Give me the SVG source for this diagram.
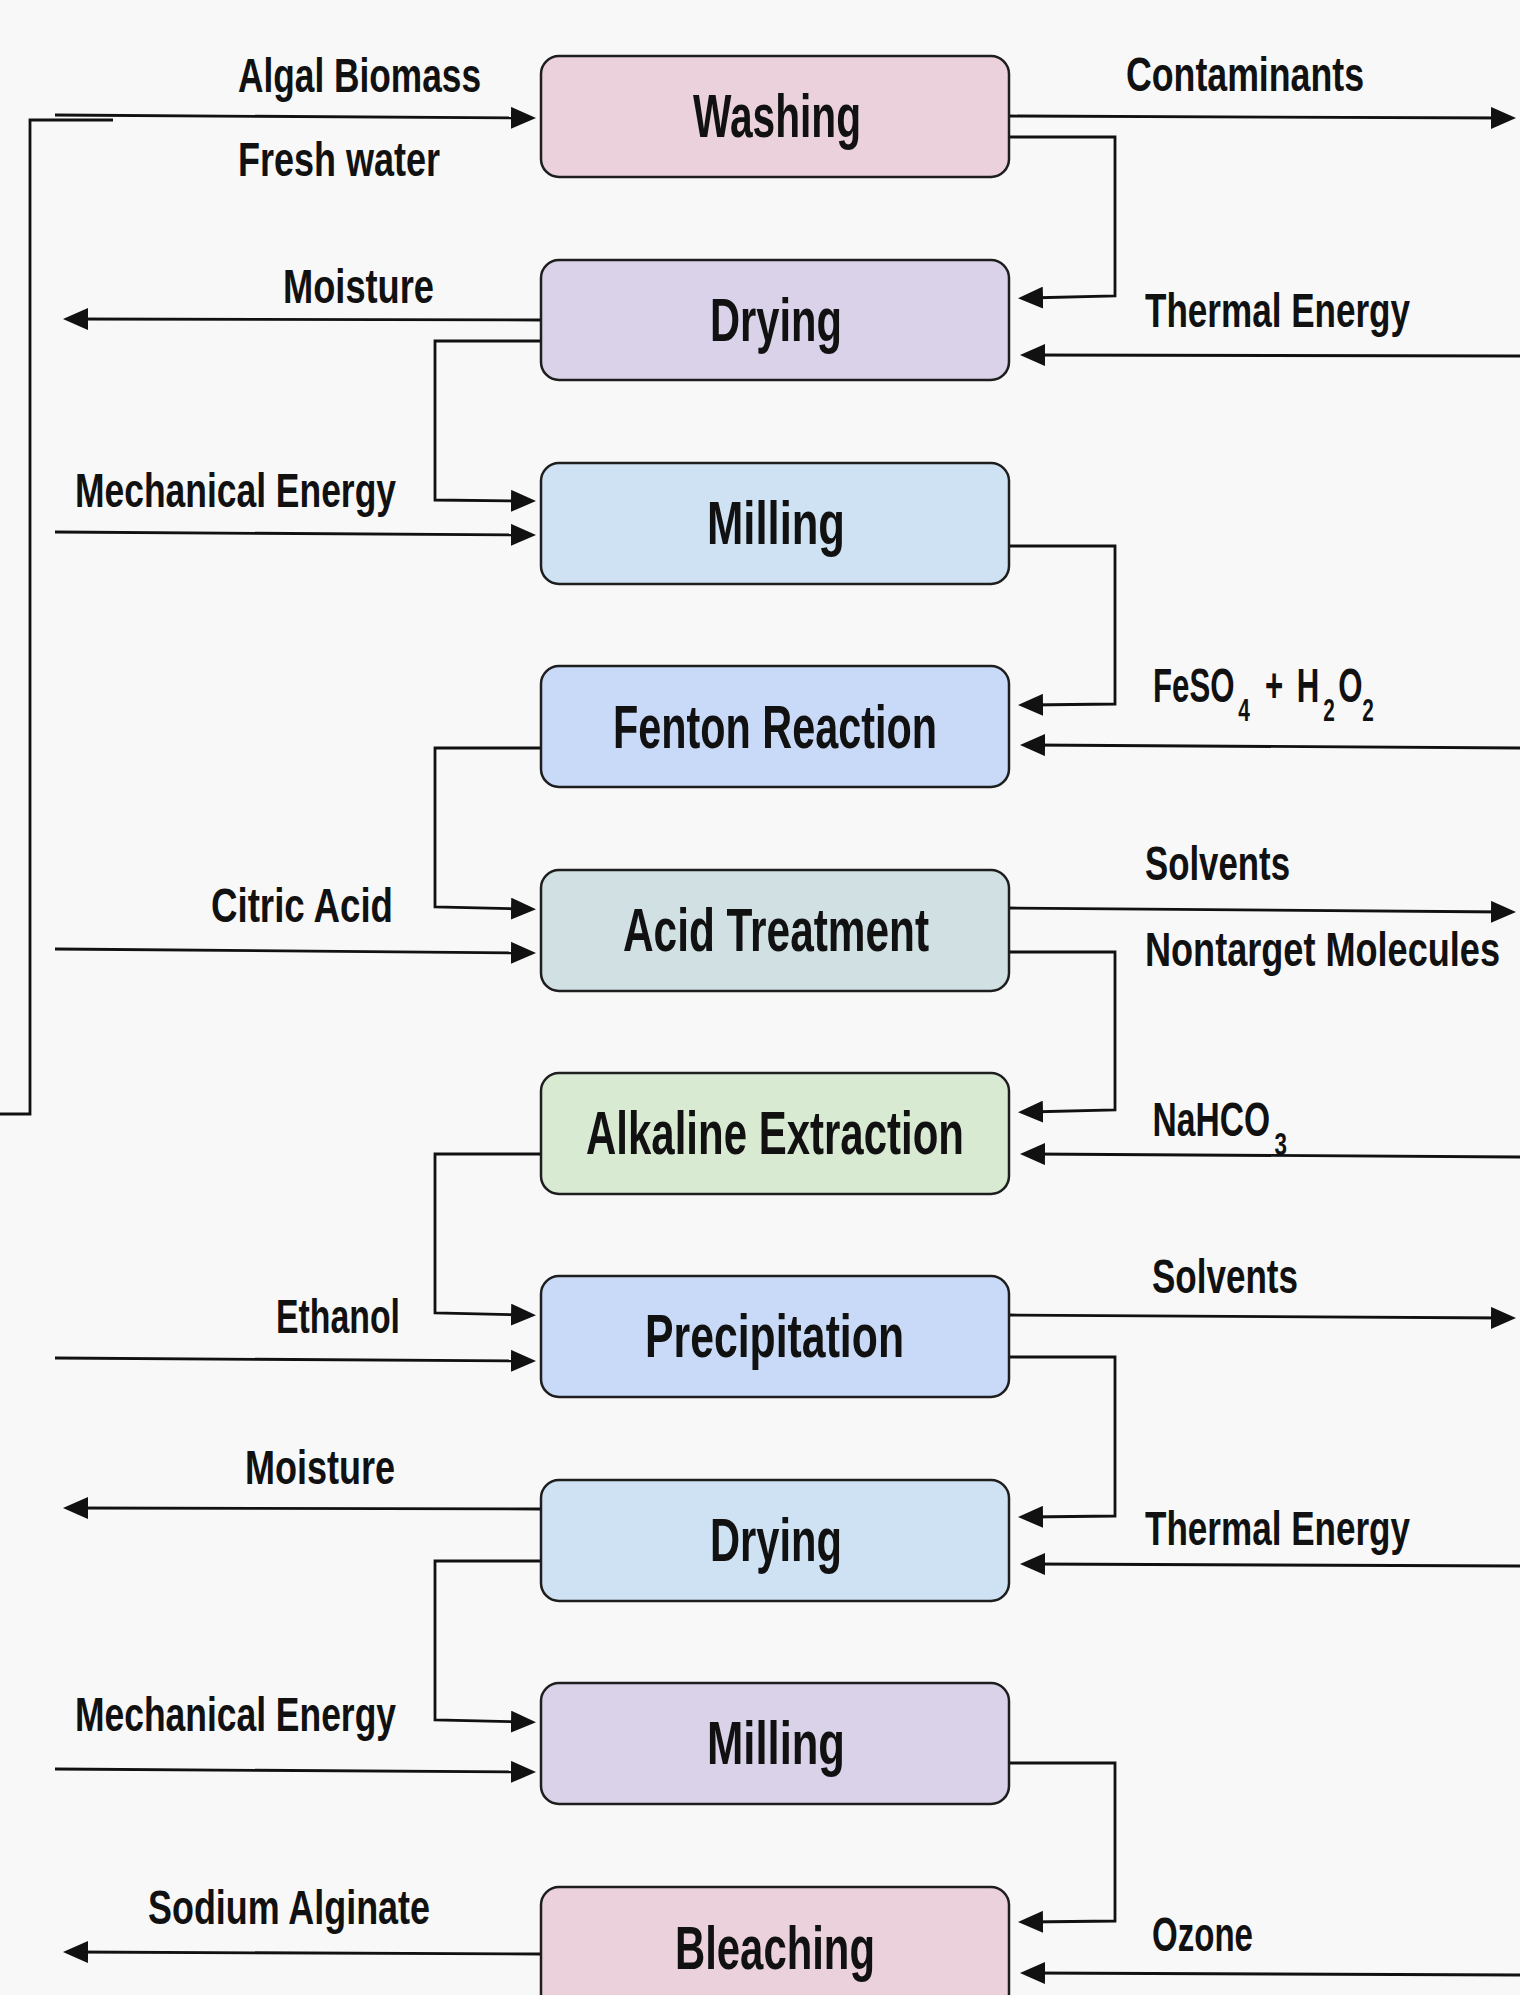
<svg xmlns="http://www.w3.org/2000/svg" width="1520" height="1995" viewBox="0 0 1520 1995">
<defs>
<style>
.box{stroke:#1e1e1e;stroke-width:2.5}
.bt{font-family:"Liberation Sans Narrow","Liberation Sans",Arial,sans-serif;font-weight:bold;font-size:62px;fill:#111}
.lb{font-family:"Liberation Sans Narrow","Liberation Sans",Arial,sans-serif;font-weight:bold;font-size:48px;fill:#111}
.fm{font-family:"Liberation Sans",Arial,sans-serif;font-weight:bold;font-size:48px;fill:#111}
.sub{font-size:32px}
.c{fill:none;stroke:#111;stroke-width:2.8}
.ca{fill:none;stroke:#111;stroke-width:2.8;marker-end:url(#arr)}
</style>
<marker id="arr" markerUnits="userSpaceOnUse" markerWidth="26" markerHeight="22" refX="15" refY="11" orient="auto">
<path d="M0,0 L25,11 L0,22 z" fill="#111"/>
</marker>
</defs>
<rect x="0" y="0" width="1520" height="1995" fill="#f8f8f8"/>

<g id="connectors">
<path class="c" d="M113,120 H30 V1114 H0" stroke-width="3.5"/>
<path class="ca" d="M55,115 L526,118"/>
<path class="ca" d="M541,320 L73,319"/>
<path class="ca" d="M541,341 H435 V500 L526,501"/>
<path class="ca" d="M55,532 L526,535"/>
<path class="ca" d="M541,748 H435 V907 L526,909"/>
<path class="ca" d="M55,949 L526,953"/>
<path class="ca" d="M541,1154 H435 V1313 L526,1315"/>
<path class="ca" d="M55,1358 L526,1361"/>
<path class="ca" d="M541,1509 L73,1508"/>
<path class="ca" d="M541,1561 H435 V1720 L526,1722"/>
<path class="ca" d="M55,1769 L526,1772"/>
<path class="ca" d="M541,1954 L73,1952"/>
<path class="ca" d="M1010,116 L1506,118"/>
<path class="ca" d="M1010,137 H1115 V296 L1028,298"/>
<path class="ca" d="M1520,356 L1030,355"/>
<path class="ca" d="M1010,546 H1115 V704 L1028,705"/>
<path class="ca" d="M1520,748 L1030,745"/>
<path class="ca" d="M1010,908 L1506,912"/>
<path class="ca" d="M1010,952 H1115 V1110 L1028,1112"/>
<path class="ca" d="M1520,1157 L1030,1154"/>
<path class="ca" d="M1010,1315 L1506,1318"/>
<path class="ca" d="M1010,1357 H1115 V1516 L1028,1517"/>
<path class="ca" d="M1520,1566 L1030,1564"/>
<path class="ca" d="M1010,1763 H1115 V1921 L1028,1922"/>
<path class="ca" d="M1520,1975 L1030,1973"/>
</g>

<g id="washing"><rect class="box" x="541" y="56" width="468" height="121" rx="18" fill="#ead1dc"/><text class="bt" x="693" y="137" textLength="168" lengthAdjust="spacingAndGlyphs">Washing</text></g>
<g id="drying1"><rect class="box" x="541" y="260" width="468" height="120" rx="18" fill="#d9d2e9"/><text class="bt" x="710" y="341" textLength="132" lengthAdjust="spacingAndGlyphs">Drying</text></g>
<g id="milling1"><rect class="box" x="541" y="463" width="468" height="121" rx="18" fill="#cfe2f3"/><text class="bt" x="707" y="544" textLength="138" lengthAdjust="spacingAndGlyphs">Milling</text></g>
<g id="fenton"><rect class="box" x="541" y="666" width="468" height="121" rx="18" fill="#c9daf8"/><text class="bt" x="613" y="748" textLength="324" lengthAdjust="spacingAndGlyphs">Fenton Reaction</text></g>
<g id="acid"><rect class="box" x="541" y="870" width="468" height="121" rx="18" fill="#d0e0e3"/><text class="bt" x="623" y="951" textLength="306" lengthAdjust="spacingAndGlyphs">Acid Treatment</text></g>
<g id="alkaline"><rect class="box" x="541" y="1073" width="468" height="121" rx="18" fill="#d9ead3"/><text class="bt" x="586" y="1154" textLength="378" lengthAdjust="spacingAndGlyphs">Alkaline Extraction</text></g>
<g id="precipitation"><rect class="box" x="541" y="1276" width="468" height="121" rx="18" fill="#c9daf8"/><text class="bt" x="645" y="1357" textLength="259" lengthAdjust="spacingAndGlyphs">Precipitation</text></g>
<g id="drying2"><rect class="box" x="541" y="1480" width="468" height="121" rx="18" fill="#cfe2f3"/><text class="bt" x="710" y="1561" textLength="132" lengthAdjust="spacingAndGlyphs">Drying</text></g>
<g id="milling2"><rect class="box" x="541" y="1683" width="468" height="121" rx="18" fill="#d9d2e9"/><text class="bt" x="707" y="1764" textLength="138" lengthAdjust="spacingAndGlyphs">Milling</text></g>
<g id="bleaching"><rect class="box" x="541" y="1887" width="468" height="125" rx="18" fill="#ead1dc"/><text class="bt" x="675" y="1969" textLength="200" lengthAdjust="spacingAndGlyphs">Bleaching</text></g>

<g id="labels">
<text class="lb" x="238" y="92" textLength="243" lengthAdjust="spacingAndGlyphs">Algal Biomass</text>
<text class="lb" x="238" y="176" textLength="202" lengthAdjust="spacingAndGlyphs">Fresh water</text>
<text class="lb" x="283" y="303" textLength="151" lengthAdjust="spacingAndGlyphs">Moisture</text>
<text class="lb" x="75" y="507" textLength="321" lengthAdjust="spacingAndGlyphs">Mechanical Energy</text>
<text class="lb" x="211" y="922" textLength="182" lengthAdjust="spacingAndGlyphs">Citric Acid</text>
<text class="lb" x="276" y="1333" textLength="124" lengthAdjust="spacingAndGlyphs">Ethanol</text>
<text class="lb" x="245" y="1484" textLength="150" lengthAdjust="spacingAndGlyphs">Moisture</text>
<text class="lb" x="75" y="1731" textLength="321" lengthAdjust="spacingAndGlyphs">Mechanical Energy</text>
<text class="lb" x="148" y="1924" textLength="282" lengthAdjust="spacingAndGlyphs">Sodium Alginate</text>
<text class="lb" x="1126" y="91" textLength="238" lengthAdjust="spacingAndGlyphs">Contaminants</text>
<text class="lb" x="1145" y="327" textLength="265" lengthAdjust="spacingAndGlyphs">Thermal Energy</text>
<text class="lb" x="1145" y="880" textLength="145" lengthAdjust="spacingAndGlyphs">Solvents</text>
<text class="lb" x="1145" y="966" textLength="355" lengthAdjust="spacingAndGlyphs">Nontarget Molecules</text>
<text class="lb" x="1152" y="1293" textLength="146" lengthAdjust="spacingAndGlyphs">Solvents</text>
<text class="lb" x="1145" y="1545" textLength="265" lengthAdjust="spacingAndGlyphs">Thermal Energy</text>
<text class="lb" x="1152" y="1951" textLength="101" lengthAdjust="spacingAndGlyphs">Ozone</text>
<text class="fm" transform="translate(1153,702) scale(0.65,1)"><tspan x="0" y="0">FeSO</tspan><tspan class="sub" x="131" y="19">4</tspan><tspan x="159" y="0"> +</tspan><tspan x="208" y="0"> H</tspan><tspan class="sub" x="262" y="19">2</tspan><tspan x="285" y="0">O</tspan><tspan class="sub" x="322" y="19">2</tspan></text>
<text class="fm" transform="translate(1152.6,1136) scale(0.7,1)"><tspan x="0" y="0">NaHCO</tspan><tspan class="sub" x="174" y="19">3</tspan></text>
</g>
</svg>
